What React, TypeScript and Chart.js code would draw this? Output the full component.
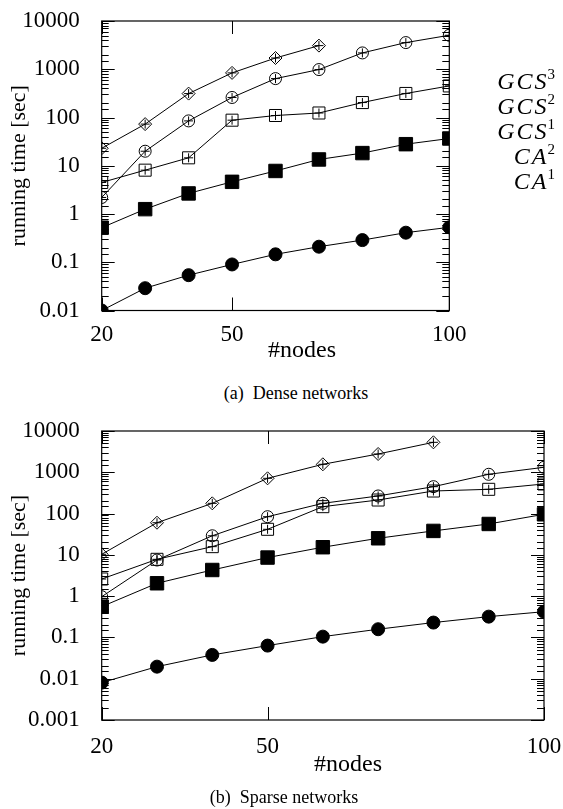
import React, { useEffect, useRef } from 'react';
import { Chart, registerables } from 'chart.js';
Chart.register(...registerables);

// ---------- data ----------
const nodes = [20, 30, 40, 50, 60, 70, 80, 90, 100];
const xTicks = [20, 50, 100];
const xTickLabels = ['20', '50', '100'];

const yTicksDense = [0.01, 0.1, 1, 10, 100, 1000, 10000];
const yTickLabelsDense = ['0.01', '0.1', '1', '10', '100', '1000', '10000'];
const yTicksSparse = [0.001, 0.01, 0.1, 1, 10, 100, 1000, 10000];
const yTickLabelsSparse = ['0.001', '0.01', '0.1', '1', '10', '100', '1000', '10000'];

const legendBase = ['GCS', 'GCS', 'GCS', 'CA', 'CA'];
const legendSup = ['3', '2', '1', '2', '1'];

// Dense networks
const denseGCS3 = [23, 73, 313, 840, 1710, 3090, null, null, null];
const denseGCS2 = [2.2, 20, 85, 260, 640, 985, 2180, 3570, 5060];
const denseGCS1 = [4.5, 8.1, 14.6, 88, 110, 124, 204, 315, 451];
const denseCA2 = [0.52, 1.26, 2.67, 4.64, 7.8, 13.5, 18.3, 28, 36.7];
const denseCA1 = [0.01, 0.029, 0.054, 0.09, 0.146, 0.21, 0.288, 0.41, 0.53];

// Sparse networks
const sparseGCS3 = [10.3, 60, 177, 714, 1560, 2775, 5320, null, null];
const sparseGCS2 = [0.97, 7.5, 29, 84, 177, 267, 448, 894, 1320];
const sparseGCS1 = [2.6, 7.8, 15.8, 41.6, 147, 213, 352, 387, 521];
const sparseCA2 = [0.557, 2.05, 4.3, 8.6, 15.3, 25.2, 38, 56, 96];
const sparseCA1 = [0.00805, 0.0196, 0.0377, 0.0634, 0.1045, 0.158, 0.229, 0.319, 0.42];

// ---------- styles ----------
const FONT = "'Liberation Serif', 'Times New Roman', serif";
const markerStyles = [
  { pointStyle: 'rectRot', radius: 6.5, filled: false },
  { pointStyle: 'circle', radius: 6, filled: false },
  { pointStyle: 'rect', radius: 8.5, filled: false },
  { pointStyle: 'rect', radius: 9.5, filled: true },
  { pointStyle: 'circle', radius: 6.5, filled: true },
];

function buildDatasets(series: (number | null)[][]) {
  const ds: any[] = [];
  series.forEach((vals, i) => {
    const m = markerStyles[i];
    ds.push({
      label: legendBase[i] + legendSup[i],
      data: nodes.map((n, k) => ({ x: n, y: vals[k] })),
      borderColor: '#000',
      borderWidth: 1,
      pointStyle: m.pointStyle,
      pointRadius: m.radius,
      pointBorderWidth: 1,
      pointBorderColor: '#000',
      pointBackgroundColor: m.filled ? '#000' : 'rgba(0,0,0,0)',
      spanGaps: false,
      order: 5 - i,
    });
    if (!m.filled) {
      ds.push({
        label: 'err' + i,
        data: nodes.map((n, k) => ({ x: n, y: vals[k] })),
        showLine: false,
        pointStyle: 'cross',
        pointRadius: 4.5,
        pointBorderWidth: 1,
        pointBorderColor: '#000',
        borderColor: '#000',
        order: 0,
      });
    }
  });
  return ds;
}

function isPow10(v: number) {
  const l = Math.log10(v);
  return Math.abs(l - Math.round(l)) < 1e-9;
}

type Cfg = {
  width: number;
  height: number;
  top: number;
  bottom: number;
  left: number;
  right: number;
  yMin: number;
  yMax: number;
  yTicks: number[];
  yTickLabels: string[];
  series: (number | null)[][];
  xTitleX: number;
  xTitleBase: number;
  xLabelBase: number;
  legend: boolean;
};

function LogChart({ cfg }: { cfg: Cfg }) {
  const ref = useRef<HTMLCanvasElement>(null);
  useEffect(() => {
    if (!ref.current) return;
    const decor = {
      id: 'decor',
      beforeDatasetsDraw(chart: any) {
        const { ctx, chartArea: a } = chart;
        const ys = chart.scales.y;
        const xs = chart.scales.x;
        ctx.save();
        ctx.strokeStyle = '#000';
        ctx.lineWidth = 1.2;
        ctx.strokeRect(a.left, a.top, a.right - a.left, a.bottom - a.top);
        ctx.lineWidth = 1;
        ctx.beginPath();
        ys.ticks.forEach((t: any) => {
          const y = Math.round(ys.getPixelForValue(t.value)) + 0.5;
          const len = isPow10(t.value) ? 13 : 7;
          ctx.moveTo(a.left, y);
          ctx.lineTo(a.left + len, y);
          ctx.moveTo(a.right, y);
          ctx.lineTo(a.right - len, y);
        });
        xTicks.forEach((v) => {
          const x = Math.round(xs.getPixelForValue(v)) + 0.5;
          ctx.moveTo(x, a.bottom);
          ctx.lineTo(x, a.bottom - 13);
          ctx.moveTo(x, a.top);
          ctx.lineTo(x, a.top + 13);
        });
        ctx.stroke();

        // tick labels
        ctx.fillStyle = '#000';
        ctx.font = `23px ${FONT}`;
        ctx.textAlign = 'right';
        ctx.textBaseline = 'middle';
        cfg.yTicks.forEach((v, i) => {
          ctx.fillText(cfg.yTickLabels[i], a.left - 22, ys.getPixelForValue(v));
        });
        ctx.textAlign = 'center';
        ctx.textBaseline = 'alphabetic';
        xTicks.forEach((v, i) => {
          ctx.fillText(xTickLabels[i], xs.getPixelForValue(v), cfg.xLabelBase);
        });
        ctx.restore();
      },
      afterDraw(chart: any) {
        const { ctx } = chart;
        ctx.save();
        ctx.fillStyle = '#000';
        ctx.font = `24px ${FONT}`;
        ctx.textAlign = 'center';
        ctx.textBaseline = 'alphabetic';
        ctx.fillText('#nodes', cfg.xTitleX, cfg.xTitleBase);
        if (cfg.legend) {
          const rightX = 555;
          legendBase.forEach((b, i) => {
            const base = 89 + i * 25;
            ctx.textAlign = 'right';
            ctx.textBaseline = 'alphabetic';
            ctx.font = `15px ${FONT}`;
            const sw = ctx.measureText(legendSup[i]).width;
            ctx.fillText(legendSup[i], rightX, base - 10);
            ctx.font = `italic 24px ${FONT}`;
            ctx.fillText(b.split('').join('\u200A'), rightX - sw - 1, base);
          });
        }
        ctx.restore();
      },
    };
    const chart = new Chart(ref.current, {
      type: 'line',
      data: { datasets: buildDatasets(cfg.series) },
      options: {
        responsive: false,
        animation: false,
        devicePixelRatio: 1,
        layout: {
          autoPadding: false,
          padding: { left: 0, top: cfg.top, right: cfg.width - cfg.right, bottom: 0 },
        },
        plugins: { legend: { display: false }, tooltip: { enabled: false } },
        scales: {
          x: {
            type: 'linear',
            min: 20,
            max: 100,
            afterBuildTicks: (s: any) => {
              s.ticks = xTicks.map((v) => ({ value: v }));
            },
            afterFit: (s: any) => {
              s.height = cfg.height - cfg.bottom;
            },
            grid: { display: false, drawTicks: false },
            border: { display: false },
            ticks: { display: false },
          },
          y: {
            type: 'logarithmic',
            min: cfg.yMin,
            max: cfg.yMax,
            afterFit: (s: any) => {
              s.width = cfg.left;
            },
            grid: { display: false, drawTicks: false },
            border: { display: false },
            ticks: { display: false, autoSkip: false },
            title: {
              display: true,
              text: 'running time [sec]',
              color: '#000',
              font: { family: FONT, size: 22 },
              padding: { top: 6, bottom: 0 },
            },
          },
        },
      } as any,
      plugins: [decor],
    });
    return () => chart.destroy();
  }, [cfg]);
  return <canvas ref={ref} width={cfg.width} height={cfg.height} style={{ display: 'block' }} />;
}

const denseCfg: Cfg = {
  width: 563,
  height: 370,
  top: 21,
  bottom: 310.5,
  left: 101.7,
  right: 449.3,
  yMin: 0.01,
  yMax: 10000,
  yTicks: yTicksDense,
  yTickLabels: yTickLabelsDense,
  series: [denseGCS3, denseGCS2, denseGCS1, denseCA2, denseCA1],
  xTitleX: 302,
  xTitleBase: 357,
  xLabelBase: 341,
  legend: true,
};

const sparseCfg: Cfg = {
  width: 563,
  height: 390,
  top: 31,
  bottom: 320,
  left: 101.7,
  right: 544,
  yMin: 0.001,
  yMax: 10000,
  yTicks: yTicksSparse,
  yTickLabels: yTickLabelsSparse,
  series: [sparseGCS3, sparseGCS2, sparseGCS1, sparseCA2, sparseCA1],
  xTitleX: 348,
  xTitleBase: 371,
  xLabelBase: 353,
  legend: false,
};

export default function App() {
  const cap: React.CSSProperties = {
    position: 'absolute',
    fontFamily: FONT,
    fontSize: 18,
    lineHeight: '20px',
    textAlign: 'center',
    whiteSpace: 'pre',
    color: '#000',
    transform: 'translateX(-50%)',
  };
  return (
    <div style={{ position: 'absolute', left: 0, top: 0, width: 563, height: 809, background: '#fff', overflow: 'hidden' }}>
      <div style={{ position: 'absolute', left: 0, top: 0 }}>
        <LogChart cfg={denseCfg} />
      </div>
      <div style={{ ...cap, left: 296, top: 383 }}>{'(a)  Dense networks'}</div>
      <div style={{ position: 'absolute', left: 0, top: 400 }}>
        <LogChart cfg={sparseCfg} />
      </div>
      <div style={{ ...cap, left: 284, top: 787 }}>{'(b)  Sparse networks'}</div>
    </div>
  );
}
